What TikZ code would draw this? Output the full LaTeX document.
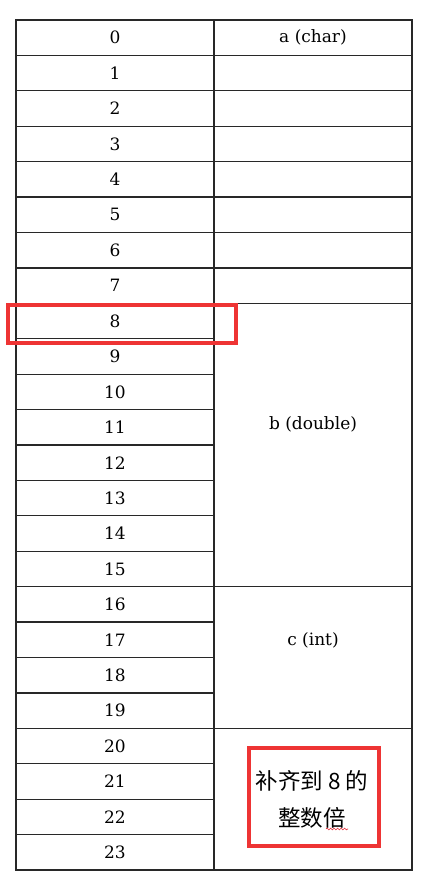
\documentclass[tikz,border=0pt]{standalone}
\usepackage{fontspec}
\setmainfont{DejaVu Serif}
\newfontfamily\cjk{Noto Sans CJK SC}
\usetikzlibrary{decorations.pathmorphing}
\definecolor{hlred}{RGB}{238,52,52}
\definecolor{gridc}{RGB}{40,40,40}
\begin{document}
\begin{tikzpicture}[x=1pt,y=-1pt,
  cell/.style={draw=gridc, line width=1.3pt, rectangle, inner sep=0pt, outer sep=0pt,
    minimum width=198pt, font=\fontsize{17}{20}\selectfont},
  lbl/.style={inner sep=0pt, font=\fontsize{17}{20}\selectfont},
  hlbox/.style={draw=hlred, line width=3.2pt, rectangle, inner sep=0pt, outer sep=0pt}]
\useasboundingbox (0,0) rectangle (440,874);
\fill[white] (0,0) rectangle (440,874);
\def\rh{35.4167}
% left column
\foreach \i in {0,...,23}
  \node[cell, minimum height=\rh pt] (l\i) at (115,{20+(\i+0.5)*\rh}) {\i};
% right column
\node[cell, minimum height=\rh pt] (ra) at (313,{20+0.5*\rh}) {a (char)};
\foreach \i in {1,...,7}
  \node[cell, minimum height=\rh pt] (re\i) at (313,{20+(\i+0.5)*\rh}) {};
\node[cell, minimum height={8*\rh pt}] (rb) at (313,{20+12*\rh}) {};
\node[lbl] (lb) at (313,424) {b (double)};
\node[cell, minimum height={4*\rh pt}] (rc) at (313,{20+18*\rh}) {};
\node[lbl] (lc) at (313,640) {c (int)};
\node[cell, minimum height={4*\rh pt}] (rp) at (313,{20+22*\rh}) {};
\node[inner sep=0pt, align=center,
  font=\cjk\fontsize{22.5}{37}\selectfont] (lp) at (312,799) {补齐到 8 的\\整数倍};
% highlight boxes
\node[hlbox, minimum width=228pt, minimum height=38pt] (hl1) at (122,324) {};
\node[hlbox, minimum width=130pt, minimum height=98pt] (hl2) at (314,797) {};
% spell-check wavy underline
\coordinate (w1) at (326,829);
\coordinate (w2) at (348,829);
\draw[hlred!80!purple, line width=0.6pt, decorate,
  decoration={snake, amplitude=0.9pt, segment length=3.5pt}] (w1) -- (w2);
\end{tikzpicture}
\end{document}
